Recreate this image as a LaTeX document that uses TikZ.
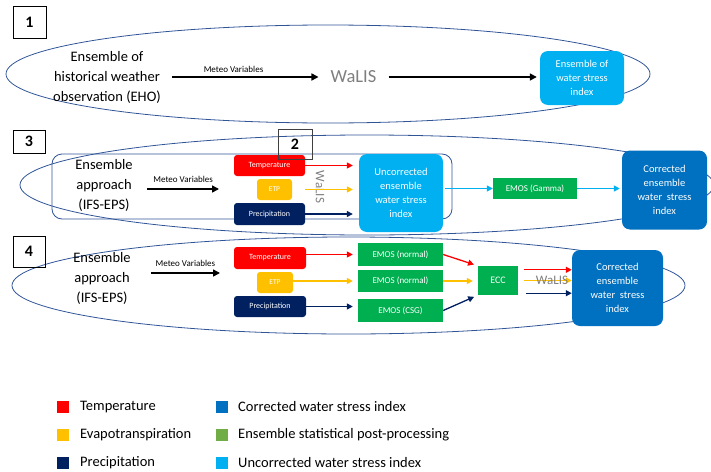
\documentclass[tikz,border=0pt]{standalone}
\usepackage{fontspec}
\setmainfont{Carlito}
\usetikzlibrary{arrows.meta}
\definecolor{tempred}{RGB}{255,0,0}
\definecolor{etporange}{RGB}{255,192,0}
\definecolor{precnavy}{RGB}{0,32,96}
\definecolor{uncblue}{RGB}{0,176,240}
\definecolor{corblue}{RGB}{0,112,192}
\definecolor{emosgreen}{RGB}{0,176,80}
\definecolor{leggreen}{RGB}{112,173,71}
\definecolor{ringblue}{RGB}{47,85,151}
\definecolor{walisgray}{RGB}{127,127,127}

\begin{document}
\begin{tikzpicture}[x=1pt,y=-1pt,
    ring/.style={draw=ringblue,line width=0.8pt},
    numbox/.style={draw,line width=0.8pt,inner sep=0pt,font=\fontsize{16}{18}\selectfont\bfseries},
    bigtext/.style={align=center,font=\fontsize{14.5}{20}\selectfont},
    meteo/.style={font=\fontsize{9}{10}\selectfont},
    walis/.style={text=walisgray,inner sep=0pt},
    varbox/.style={fill=#1,rounded corners=3pt,inner sep=0pt,text=white,font=\fontsize{8}{9}\selectfont},
    emosbox/.style={fill=emosgreen,inner sep=0pt,text=white,font=\fontsize{9}{10}\selectfont},
    idxbox/.style={fill=#1,rounded corners=8pt,inner sep=0pt,align=center,text=white,font=\fontsize{10.5}{14}\selectfont},
    blackarr/.style={line width=1.6pt,-{Triangle[length=7pt,width=7pt]}},
    colarr/.style={draw=#1,line width=1.3pt,-{Triangle[length=6pt,width=6pt]}},
    legsq/.style={fill=#1,minimum size=12pt,inner sep=0pt},
    legtext/.style={anchor=west,inner sep=0pt,font=\fontsize{14.5}{16}\selectfont}
]
    \useasboundingbox (0,0) rectangle (711,471);

    \draw[ring] (328,74) ellipse [x radius=322, y radius=49];
    \draw[ring] (367,185) ellipse [x radius=347, y radius=50];
    \draw[ring] (348.5,285.5) ellipse [x radius=336.5, y radius=48.5];

    \node[numbox,minimum width=33pt,minimum height=32pt] (n1) at (29.5,22) {1};
    \node[bigtext,inner xsep=11pt] (eho) at (107,77) {Ensemble of\\historical weather\\observation (EHO)};
    \node[walis,inner xsep=12pt,font=\fontsize{18.5}{20}\selectfont] (walis1) at (353.5,77) {WaLIS};
    \node[idxbox=uncblue,minimum width=84pt,minimum height=54pt,font=\fontsize{10.5}{14}\selectfont] (ews1) at (582,78) {Ensemble of\\water stress\\index};
    \draw[blackarr] (eho) -- (walis1) node[meteo,above,pos=0.42] {Meteo Variables};
    \draw[blackarr,shorten >=3pt] (walis1) -- (walis1 -| ews1.west);

    \draw[draw=ringblue,line width=0.8pt,rounded corners=10pt] (52,154) rectangle (452,219);
    \node[numbox,minimum width=32pt,minimum height=23pt] (n3) at (29,141.5) {3};
    \node[bigtext,inner xsep=14.5pt] (ens3) at (104,185) {Ensemble\\approach\\(IFS-EPS)};
    \coordinate (in3) at (219,189);
    \draw[blackarr] (ens3.east |- in3) -- (in3) node[meteo,above=2.5pt,midway] {Meteo Variables};
    \node[varbox=tempred,minimum width=71pt,minimum height=21pt] (temp3) at (269.5,165.5) {Temperature};
    \node[varbox=etporange,minimum width=35pt,minimum height=21pt,font=\fontsize{7.5}{9}\selectfont] (etp3) at (274.5,189.5) {ETP};
    \node[varbox=precnavy,minimum width=71pt,minimum height=22pt] (prec3) at (269.5,214) {Precipitation};
    \node[walis,rotate=-90,font=\fontsize{13}{14}\selectfont] (walis3) at (320,187) {WaLIS};
    \node[idxbox=uncblue,minimum width=84pt,minimum height=78pt] (unc3) at (401,193) {Uncorrected\\ensemble\\water stress\\index};
    \node[emosbox,minimum width=84pt,minimum height=21pt] (gamma3) at (535,188.5) {EMOS (Gamma)};
    \node[idxbox=corblue,minimum width=85pt,minimum height=79pt] (cor3) at (664.5,190) {Corrected\\ensemble\\water~ stress\\index};
    \draw[colarr=tempred,shorten >=6pt] (temp3.east) -- (temp3.east -| unc3.west);
    \draw[colarr=etporange,shorten >=6pt] (etp3 -| temp3.east) -- (etp3 -| unc3.west);
    \draw[colarr=precnavy,shorten >=6pt] (prec3.east) -- (prec3.east -| unc3.west);
    \draw[colarr=uncblue,shorten <=2pt] (unc3.east |- gamma3) -- (gamma3.west);
    \draw[colarr=uncblue,line width=1.8pt,shorten >=2pt] (gamma3.east) -- (gamma3 -| cor3.west);
    \node[draw=black!75,line width=0.6pt,inner sep=0pt,minimum width=34pt,minimum height=30pt,font=\fontsize{16}{18}\selectfont\bfseries] (n2) at (295,144) {2};

    \node[numbox,minimum width=32pt,minimum height=31pt] (n4) at (29,251.5) {4};
    \node[bigtext,inner xsep=20pt] (ens4) at (102,278) {Ensemble\\approach\\(IFS-EPS)};
    \coordinate (in4) at (220,273);
    \draw[blackarr] (ens4.east |- in4) -- (in4) node[meteo,above=2.5pt,midway] {Meteo Variables};
    \node[varbox=tempred,minimum width=72pt,minimum height=22pt] (temp4) at (270,258) {Temperature};
    \node[varbox=etporange,minimum width=36pt,minimum height=21pt,font=\fontsize{7.5}{9}\selectfont] (etp4) at (275,282.5) {ETP};
    \node[varbox=precnavy,minimum width=72pt,minimum height=21pt] (prec4) at (270,306.5) {Precipitation};
    \node[emosbox,minimum width=85pt,minimum height=23pt] (emos4a) at (400.5,254.5) {EMOS (normal)};
    \node[emosbox,minimum width=85pt,minimum height=22pt] (emos4b) at (400.5,281) {EMOS (normal)};
    \node[emosbox,minimum width=85pt,minimum height=23pt] (emos4c) at (400.5,310.5) {EMOS (CSG)};
    \node[emosbox,minimum width=40pt,minimum height=29pt,font=\fontsize{10}{12}\selectfont] (ecc4) at (498,280.5) {ECC};
    \node[idxbox=corblue,minimum width=91pt,minimum height=76pt] (cor4) at (617.5,288) {Corrected\\ensemble\\water~ stress\\index};
    \draw[colarr=tempred,shorten >=5pt] (temp4.east |- emos4a) -- (emos4a.west);
    \draw[colarr=etporange,shorten >=5pt] (emos4b -| etp4.east) -- (emos4b.west);
    \draw[colarr=precnavy,shorten >=5pt] (prec4.east) -- (prec4.east -| emos4c.west);
    \draw[colarr=tempred,shorten >=4pt] (emos4a.east) -- (ecc4.north west);
    \draw[colarr=etporange,shorten >=5pt] (emos4b.east) -- (emos4b -| ecc4.west);
    \draw[colarr=precnavy,shorten >=4pt] (emos4c.east) -- (ecc4.south west);
    \coordinate (eccr) at ([xshift=6pt,yshift=-4pt]ecc4.north east);
    \coordinate (ecco) at ([xshift=6pt]ecc4.east);
    \coordinate (eccp) at ([xshift=8pt,yshift=2pt]ecc4.south east);
    \draw[colarr=tempred] (eccr) -- (eccr -| cor4.west);
    \draw[colarr=etporange] (ecco) -- (ecco -| cor4.west);
    \draw[colarr=precnavy] (eccp) -- (eccp -| cor4.west);
    \node[walis,font=\fontsize{13}{14}\selectfont] (walis4) at (552,280) {WaLIS};

    \node[legsq=tempred] (lq1) at (63,407) {};
    \node[legtext] (lt1) at (80,407) {Temperature};
    \node[legsq=etporange] (lq2) at (63,435) {};
    \node[legtext] (lt2) at (80,435) {Evapotranspiration};
    \node[legsq=precnavy] (lq3) at (63,463) {};
    \node[legtext] (lt3) at (80,463) {Precipitation};
    \node[legsq=corblue] (lq4) at (221.5,407) {};
    \node[legtext] (lt4) at (238,407) {Corrected water stress index};
    \node[legsq=leggreen] (lq5) at (221.5,435) {};
    \node[legtext] (lt5) at (238,435) {Ensemble statistical post-processing};
    \node[legsq=uncblue] (lq6) at (221.5,463) {};
    \node[legtext] (lt6) at (238,463) {Uncorrected water stress index};
\end{tikzpicture}
\end{document}
